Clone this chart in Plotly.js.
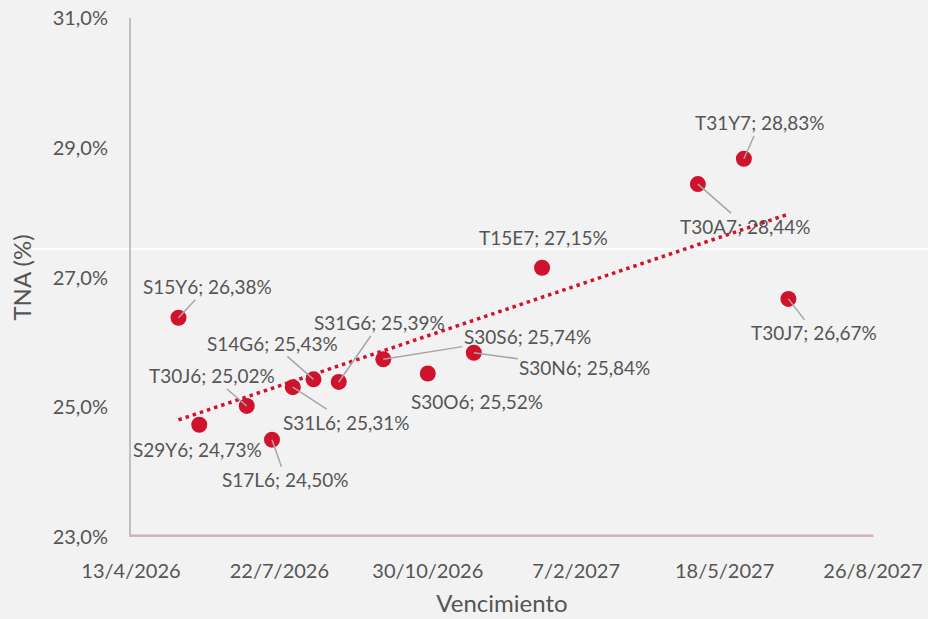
<!DOCTYPE html>
<html>
<head>
<meta charset="utf-8">
<script src="https://cdn.plot.ly/plotly-3.0.1.min.js"></script>
<style>
html,body{margin:0;padding:0;background:#f2f2f2;}
#chart{width:928px;height:619px;}
</style>
</head>
<body>
<div id="chart"></div>
<script>
// ---- Data ----
const tickers = ['S15Y6','S29Y6','T30J6','S17L6','S31L6','S14G6','S31G6','S30S6','S30O6','S30N6','T15E7','T30A7','T31Y7','T30J7'];
const maturities = ['2026-05-15','2026-05-29','2026-06-30','2026-07-17','2026-07-31','2026-08-14','2026-08-31','2026-09-30','2026-10-30','2026-11-30','2027-01-15','2027-04-30','2027-05-31','2027-06-30'];
const tnaValues = [26.38, 24.73, 25.02, 24.50, 25.31, 25.43, 25.39, 25.74, 25.52, 25.84, 27.15, 28.44, 28.83, 26.67];

// ---- Label placement (pixel offsets from each point) ----
const labelDx = [29, -2, -35, 14, 54, -41, 41, 144, 49, 111, 1, 48, 16, 26];
const labelDy = [-31, 25, -30, 40, 35, -36, -59, -23, 28, 15, -30, 42, -36, 34];
const showLeader = [true, false, true, true, true, true, true, true, false, true, false, true, true, true];

// ---- Linear trendline (least squares) computed from the data ----
const dayMs = 86400000;
const xs = maturities.map(d => Date.parse(d) / dayMs);
const n = xs.length;
const mx = xs.reduce((a, b) => a + b, 0) / n;
const my = tnaValues.reduce((a, b) => a + b, 0) / n;
let sxy = 0, sxx = 0;
for (let i = 0; i < n; i++) { sxy += (xs[i] - mx) * (tnaValues[i] - my); sxx += (xs[i] - mx) ** 2; }
const slope = sxy / sxx;
const trendX = [maturities[0], maturities[n - 1]];
const trendY = [my + slope * (xs[0] - mx), my + slope * (xs[n - 1] - mx)];

const red = '#d0132d';
const textColor = '#555555';
const font = 'Lato, "Source Sans Pro", "Open Sans", sans-serif';

const traces = [
  {
    x: trendX, y: trendY, type: 'scatter', mode: 'lines',
    line: {color: red, width: 3.5, dash: '3.5px,4px'},
    hoverinfo: 'skip', showlegend: false
  },
  {
    x: maturities, y: tnaValues, type: 'scatter', mode: 'markers',
    marker: {color: red, size: 16},
    showlegend: false
  }
];

const annotations = tickers.map((t, i) => ({
  x: maturities[i], y: tnaValues[i], xref: 'x', yref: 'y',
  text: t + '; ' + tnaValues[i].toFixed(2).replace('.', ',') + '%',
  showarrow: true, arrowhead: 0, arrowwidth: 1.5, standoff: 0,
  arrowcolor: showLeader[i] ? '#a6a6a6' : 'rgba(0,0,0,0)',
  ax: labelDx[i], ay: labelDy[i], axref: 'pixel', ayref: 'pixel',
  font: {family: font, size: 19, color: textColor},
  borderpad: 1
}));

const layout = {
  width: 928, height: 619,
  margin: {l: 131, r: 55, t: 18, b: 82},
  paper_bgcolor: '#f2f2f2', plot_bgcolor: '#f2f2f2',
  separators: ',.',
  font: {family: font, color: textColor},
  showlegend: false,
  xaxis: {
    type: 'date',
    range: ['2026-04-13', '2027-08-26'],
    tick0: '2026-04-13', dtick: 100 * dayMs,
    tickformat: '%-d/%-m/%Y',
    showgrid: false, zeroline: false, showline: false,
    ticks: '', ticklabelstandoff: 20,
    tickfont: {family: font, size: 20, color: textColor},
    title: {text: 'Vencimiento', font: {family: font, size: 24, color: textColor}, standoff: 14},
    fixedrange: true
  },
  yaxis: {
    range: [23, 31], tick0: 23, dtick: 2,
    tickformat: '.1f', ticksuffix: '%',
    showgrid: false, zeroline: false,
    showline: true, linecolor: '#bfbfbf', linewidth: 2,
    ticks: '', ticklabelstandoff: 17,
    tickfont: {family: font, size: 20, color: textColor},
    title: {text: 'TNA (%)', font: {family: font, size: 24, color: textColor}, standoff: 14},
    fixedrange: true
  },
  shapes: [
    {type: 'line', xref: 'paper', yref: 'paper', x0: -0.1334, x1: 1.0741, y0: 0.5549, y1: 0.5549,
     line: {color: '#ffffff', width: 2}, layer: 'below'},
    {type: 'rect', xref: 'paper', yref: 'y', x0: 0, x1: 1, ysizemode: 'pixel', yanchor: 23, y0: -2, y1: 2,
     fillcolor: '#bfbfbf', line: {color: '#eaa3ad', width: 1}, layer: 'above'}
  ],
  annotations: annotations
};

Plotly.newPlot('chart', traces, layout, {displayModeBar: false, staticPlot: true});
</script>
</body>
</html>
